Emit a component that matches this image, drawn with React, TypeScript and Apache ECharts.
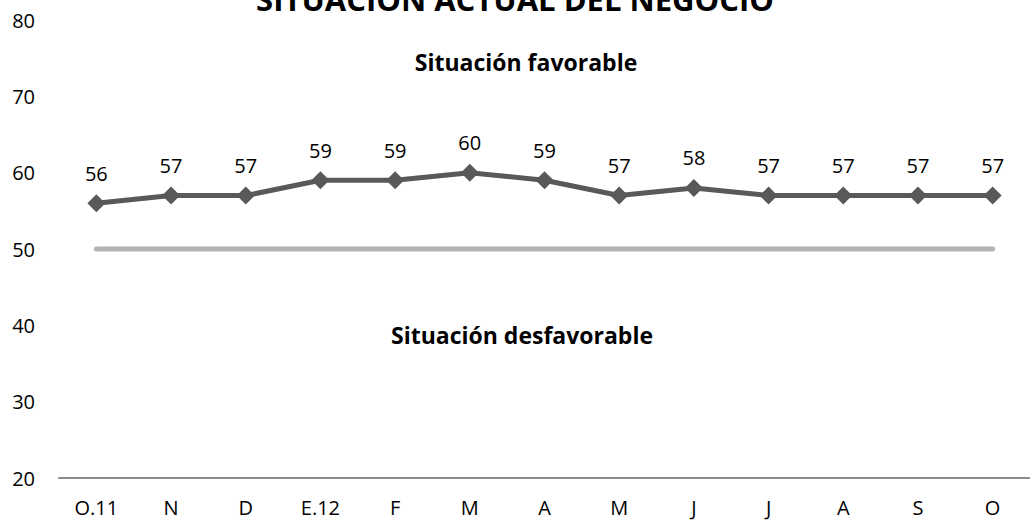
import React, { useEffect, useRef } from "react";
import * as echarts from "echarts";

const categories = ["O.11", "N", "D", "E.12", "F", "M", "A", "M", "J", "J", "A", "S", "O"];
const situacionValues = [56, 57, 57, 59, 59, 60, 59, 57, 58, 57, 57, 57, 57];
const thresholdValues = [50, 50, 50, 50, 50, 50, 50, 50, 50, 50, 50, 50, 50];
const yMin = 20;
const yMax = 80;
const yInterval = 10;
const titleText = "SITUACIÓN ACTUAL DEL NEGOCIO";
const favorableText = "Situación favorable";
const desfavorableText = "Situación desfavorable";

const FONT = "'Open Sans', 'Noto Sans', sans-serif";

export default function App() {
  const ref = useRef<HTMLDivElement>(null);
  useEffect(() => {
    document.body.style.margin = "0";
    if (!ref.current) return;
    const chart = echarts.init(ref.current, undefined, { renderer: "svg" });
    chart.setOption({
      animation: false,
      backgroundColor: "#ffffff",
      grid: { left: 59, width: 975, top: 20, height: 458 },
      xAxis: {
        type: "category",
        data: categories,
        boundaryGap: true,
        axisLine: { show: true, lineStyle: { color: "#8c8c8c", width: 2 } },
        axisTick: { show: false },
        axisLabel: { color: "#000", fontFamily: FONT, fontSize: 20, margin: 19 },
        splitLine: { show: false },
      },
      yAxis: {
        type: "value",
        min: yMin,
        max: yMax,
        interval: yInterval,
        axisLine: { show: false },
        axisTick: { show: false },
        splitLine: { show: false },
        axisLabel: { color: "#000", fontFamily: FONT, fontSize: 20, margin: 24 },
      },
      graphic: [
        {
          type: "text",
          left: "center",
          top: -17,
          style: { text: titleText, font: `bold 31px ${FONT}`, fill: "#000" },
        },
        {
          type: "text",
          x: 526,
          y: 62,
          style: {
            text: favorableText,
            font: `bold 23px ${FONT}`,
            fill: "#000",
            align: "center",
            verticalAlign: "middle",
          },
        },
        {
          type: "text",
          x: 522,
          y: 335,
          style: {
            text: desfavorableText,
            font: `bold 23px ${FONT}`,
            fill: "#000",
            align: "center",
            verticalAlign: "middle",
          },
        },
      ],
      series: [
        {
          type: "line",
          data: thresholdValues,
          symbol: "none",
          lineStyle: { color: "#b3b3b3", width: 5, cap: "round" },
          z: 1,
        },
        {
          type: "line",
          data: situacionValues,
          symbol: "diamond",
          symbolSize: 18,
          itemStyle: { color: "#595959" },
          lineStyle: { color: "#595959", width: 5 },
          label: {
            show: true,
            position: "top",
            distance: 11,
            color: "#000",
            fontFamily: FONT,
            fontSize: 20,
          },
          z: 2,
        },
      ],
    });
    return () => chart.dispose();
  }, []);
  return (
    <div
      ref={ref}
      style={{ width: 1030, height: 521, position: "absolute", left: 0, top: 0 }}
    />
  );
}
